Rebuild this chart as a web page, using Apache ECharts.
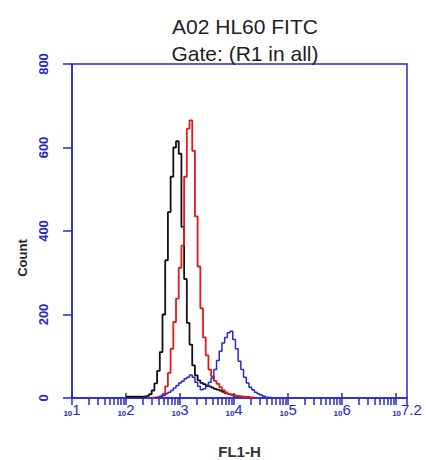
<!DOCTYPE html>
<html>
<head>
<meta charset="utf-8">
<script src="https://cdn.jsdelivr.net/npm/echarts@6/dist/echarts.min.js"></script>
<style>html,body{margin:0;padding:0;background:#fff}#c{width:426px;height:460px}</style>
</head>
<body>
<div id="c"></div>
<script>
// log10 of FL1-H channel (bin positions)
const bins = [2.00,2.05,2.10,2.15,2.20,2.25,2.30,2.35,2.40,2.45,2.50,2.55,2.60,2.65,2.70,2.75,2.80,2.85,2.90,2.95,3.00,3.05,3.10,3.15,3.20,3.25,3.30,3.35,3.40,3.45,3.50,3.55,3.60,3.65,3.70,3.75,3.80,3.85,3.90,3.95,4.00,4.05,4.10,4.15,4.20,4.25,4.30,4.35,4.40,4.45,4.50,4.55,4.60,4.65,4.70];
const blackCounts = [3,3,3,3,3,3,3,4,5,9,18,35,65,110,200,330,445,530,600,615,585,410,285,180,128,78,54,42,36,33,30,28,25,22,20,18,15,12,10,8,6,5,4,3,2,2,1,1,null,null,null,null,null,null,null];
const redCounts = [null,null,null,null,null,null,null,null,null,null,1,1,2,4,10,28,60,118,182,238,312,365,530,645,665,592,435,315,215,145,102,68,52,41,34,26,19,14,10,8,6,5,4,3,2,2,1,1,null,null,null,null,null,null,null];
const blueCounts = [null,null,null,null,null,null,null,null,null,null,null,1,2,4,6,10,14,18,24,30,36,40,46,50,55,50,38,28,20,22,28,38,48,68,90,112,132,145,156,160,140,118,88,68,50,36,26,20,14,10,7,4,2,1,1];
// axis tick labels (decade exponents) and y ticks
const xLabelExponents = [1,2,3,4,5,6,7.2];
const xDecades = [1,2,3,4,5,6,7];

const AX = '#2828c8';
const pair = (ys) => bins.map((b,i) => [b, ys[i]]);
const minorTicks = [];
xDecades.forEach(d => { for (let k = 1; k <= 9; k++) { const v = d + Math.log10(k); if (v <= 7.2) minorTicks.push(v); } });
minorTicks.push(7.2);

const chart = echarts.init(document.getElementById('c'), null, {renderer: 'svg'});
chart.setOption({
  animation: false,
  backgroundColor: '#fff',
  title: {
    text: 'A02 HL60 FITC\nGate: (R1 in all)',
    left: 240, top: 8, textAlign: 'center',
    textStyle: {fontFamily: 'Liberation Sans', fontSize: 21, fontWeight: 'normal', color: '#1e1e1e', lineHeight: 27}
  },
  grid: {left: 72, top: 64, right: 19, bottom: 62, show: true, borderColor: AX, borderWidth: 1.5, containLabel: false, outerBoundsMode: 'none'},
  xAxis: [{
    type: 'value', min: 1, max: 7.2, position: 'bottom',
    name: 'FL1-H', nameLocation: 'middle', nameGap: 46,
    nameTextStyle: {fontFamily: 'Liberation Sans', fontSize: 15, fontWeight: 'bold', color: '#333'},
    axisLine: {lineStyle: {color: AX, width: 1.5}},
    axisTick: {show: true, customValues: minorTicks, length: 7, lineStyle: {color: AX, width: 1.5}},
    splitLine: {show: false},
    axisLabel: {
      customValues: xLabelExponents, margin: 4, hideOverlap: false,
      formatter: v => '{s|10}{e|' + (Math.round(v*10)/10) + '}',
      rich: {
        s: {fontFamily: 'Liberation Sans', fontSize: 8, fontWeight: 'bold', color: AX, verticalAlign: 'bottom', padding: [7,0,0,0]},
        e: {fontFamily: 'Liberation Sans', fontSize: 15, color: AX, verticalAlign: 'top'}
      }
    }
  }, {
    type: 'value', min: 1, max: 7.2, position: 'bottom',
    axisLine: {show: false},
    axisLabel: {show: false},
    splitLine: {show: false},
    axisTick: {show: true, inside: true, customValues: xDecades, length: 5, lineStyle: {color: AX, width: 1.5}}
  }],
  yAxis: {
    type: 'value', min: 0, max: 800, interval: 200,
    name: 'Count', nameLocation: 'middle', nameGap: 42, nameRotate: 90,
    nameTextStyle: {fontFamily: 'Liberation Sans', fontSize: 13, fontWeight: 'bold', color: '#222', padding: [0,54,0,0]},
    axisLine: {show: true, lineStyle: {color: AX, width: 1.5}},
    axisTick: {show: true, length: 9, lineStyle: {color: AX, width: 1.5}},
    splitLine: {show: false},
    axisLabel: {rotate: 90, margin: 22, fontFamily: 'Liberation Sans', fontSize: 13, fontWeight: 'bold', color: AX}
  },
  series: [
    {type: 'line', step: 'middle', showSymbol: false, symbol: 'none', data: pair(blackCounts), lineStyle: {color: '#111', width: 1.8}, z: 3},
    {type: 'line', step: 'middle', showSymbol: false, symbol: 'none', data: pair(redCounts), lineStyle: {color: '#e81818', width: 1.8}, z: 4},
    {type: 'line', step: 'middle', showSymbol: false, symbol: 'none', data: pair(blueCounts), lineStyle: {color: '#2a2acc', width: 1.5}, z: 5}
  ]
});
</script>
</body>
</html>
